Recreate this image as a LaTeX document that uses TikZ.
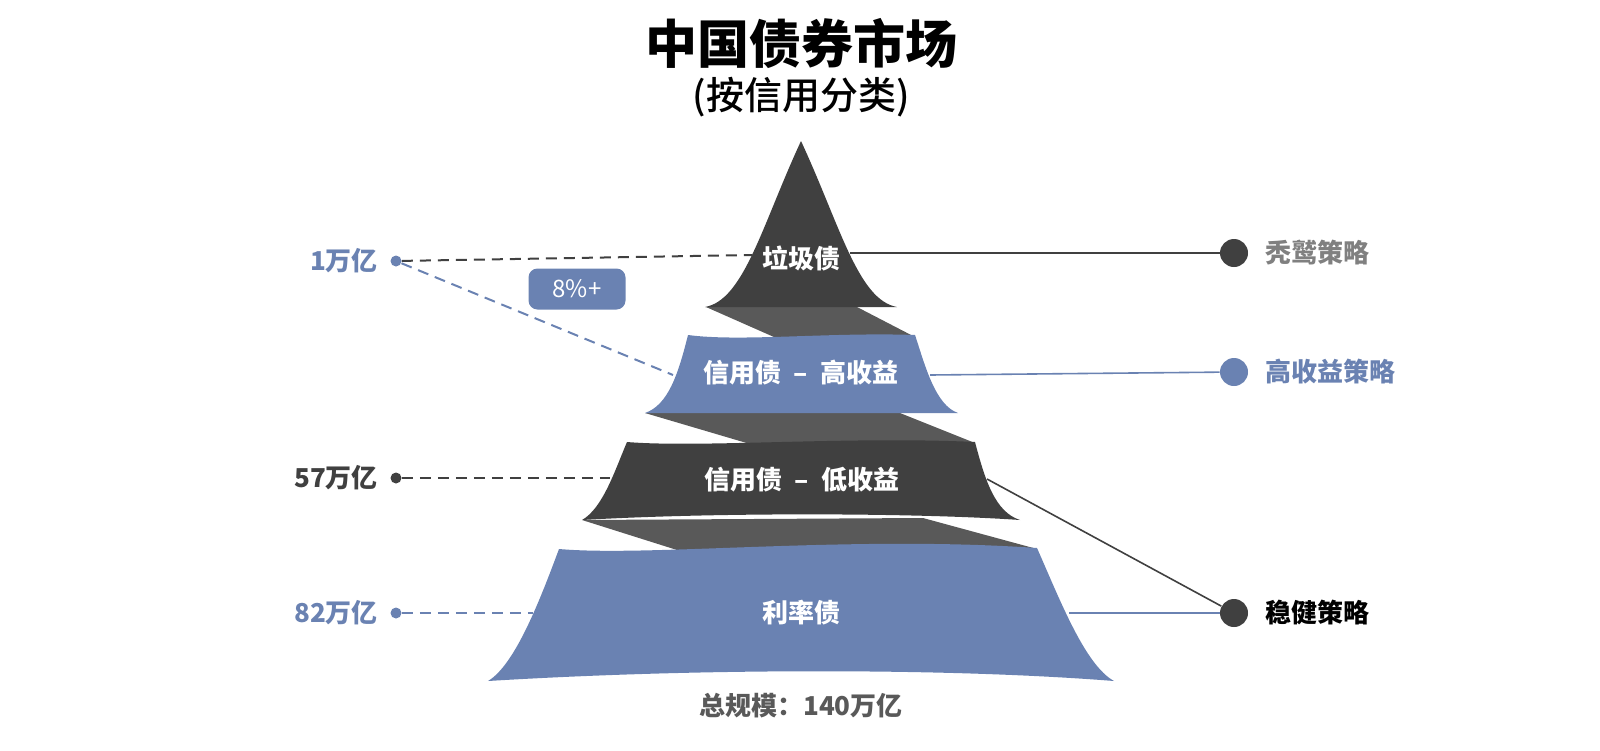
\documentclass[tikz,border=0pt]{standalone}
\usepackage{fontspec}
\setmainfont{Noto Sans CJK SC}
\newfontfamily\medfont{Noto Sans CJK SC Medium}
\definecolor{darkg}{HTML}{404040}
\definecolor{bandg}{HTML}{595959}
\definecolor{blu}{HTML}{6A82B2}
\definecolor{midg}{HTML}{808080}

\begin{document}
\begin{tikzpicture}[x=0.5pt,y=-0.5pt,
    lbl/.style={text=white,font=\fontsize{13}{15}\selectfont\bfseries},
    side/.style={font=\fontsize{13}{15}\selectfont\bfseries},
    sdot/.style={circle,inner sep=0pt,minimum size=5.5pt},
    bdot/.style={circle,inner sep=0pt,minimum size=14pt},
    dl/.style={dash pattern=on 5.5pt off 3.5pt,line width=1pt},
    sl/.style={line width=0.8pt}]
    \useasboundingbox (0,0) rectangle (1600,750);

    % title
    \node[font=\fontsize{26}{30}\selectfont\bfseries] (title) at (801,43) {中国债券市场};
    \node[font=\fontsize{19}{22}\selectfont\medfont] (sub) at (801,97) {(按信用分类)};

    % bands behind the tiers
    \fill[bandg] (706,307) -- (857,307) -- (913,336) -- (783,341) -- cycle;
    \fill[bandg] (645,413) -- (900,413) -- (975,443) -- (750,444) -- cycle;
    \fill[bandg] (582,520) -- (923,518) -- (1037,549) -- (677,550) -- cycle;

    % tiers
    \fill[darkg] (801,141) .. controls (840,225) and (858,300) .. (897,307)
        -- (705,307) .. controls (744,300) and (762,225) .. (801,141) -- cycle;
    \fill[blu] (688,335) .. controls (740,342) and (830,332) .. (915,335)
        .. controls (925,365) and (935,405) .. (958,413) -- (645,413)
        .. controls (668,405) and (678,375) .. (688,335) -- cycle;
    \fill[darkg] (627,442) .. controls (700,448) and (850,436) .. (975,442)
        .. controls (985,480) and (995,512) .. (1020,520)
        .. controls (920,513) and (720,512) .. (582,520)
        .. controls (603,508) and (615,470) .. (627,442) -- cycle;
    \fill[blu] (559,549) .. controls (650,557) and (850,535) .. (1037,548)
        .. controls (1060,600) and (1085,665) .. (1114,681)
        .. controls (950,668) and (700,668) .. (488,681)
        .. controls (515,665) and (540,600) .. (559,549) -- cycle;

    \node[lbl] (lj) at (801,258) {垃圾债};
    \node[lbl] (lh) at (801,373) {信用债 ~–~ 高收益};
    \node[lbl] (ld) at (802,480) {信用债 ~–~ 低收益};
    \node[lbl] (lr) at (801,613) {利率债};
    \node[font=\fontsize{13}{15}\selectfont\bfseries,text=bandg] (tot) at (801,706) {总规模：140万亿};

    % left side
    \node[side,text=blu,anchor=east] (v1) at (385,261) {1万亿};
    \node[side,text=darkg,anchor=east] (v2) at (385,478) {57万亿};
    \node[side,text=blu,anchor=east] (v3) at (385,613) {82万亿};
    \node[sdot,fill=blu] (p1) at (396,261) {};
    \node[sdot,fill=darkg] (p2) at (396,478) {};
    \node[sdot,fill=blu] (p3) at (396,613) {};
    \coordinate (t1l) at (752,255);
    \coordinate (t2l) at (673,375);
    \coordinate (t3l) at (610,478);
    \coordinate (t4l) at (533,613);
    \draw[dl,darkg] (p1) -- (t1l);
    \draw[dl,blu] (p1) -- (t2l);
    \draw[dl,darkg] (p2) -- (t3l);
    \draw[dl,blu] (p3) -- (t4l);
    \node[fill=blu,text=white,rounded corners=4.5pt,minimum width=48.5pt,minimum height=20.5pt,
        font=\fontsize{12}{14}\selectfont] (pct) at (577,289) {8\%+};

    % right side
    \coordinate (t1r) at (850,253);
    \coordinate (t2r) at (930,375);
    \coordinate (t3r) at (987,479);
    \coordinate (t4r) at (1069,613);
    \node[bdot,fill=darkg] (s1) at (1234,253) {};
    \node[bdot,fill=blu] (s2) at (1234,372) {};
    \node[bdot,fill=darkg] (s3) at (1234,613) {};
    \draw[sl,darkg] (t1r) -- (s1);
    \draw[sl,blu] (t2r) -- (s2);
    \draw[sl,darkg] (t3r) -- (s3);
    \draw[sl,blu] (t4r) -- (s3);
    \node[side,text=midg,anchor=west] (r1) at (1258,253) {秃鹫策略};
    \node[side,text=blu,anchor=west] (r2) at (1258,372) {高收益策略};
    \node[side,text=black,anchor=west] (r3) at (1258,613) {稳健策略};
\end{tikzpicture}
\end{document}
